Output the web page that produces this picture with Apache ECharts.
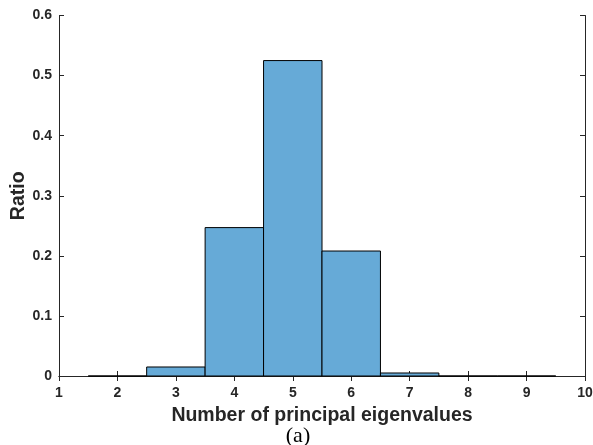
<!DOCTYPE html>
<html>
<head>
<meta charset="utf-8">
<script src="https://cdn.jsdelivr.net/npm/echarts@6/dist/echarts.min.js"></script>
<style>
html, body { margin: 0; padding: 0; background: #fff; }
#chart { width: 593px; height: 445px; }
</style>
</head>
<body>
<div id="chart"></div>
<script>
// Histogram of the number of principal eigenvalues (bin width 1)
const binCenters = [2, 3, 4, 5, 6, 7, 8, 9];
const ratios = [0.0, 0.015, 0.247, 0.525, 0.208, 0.005, 0.0, 0.0];
const binWidth = 1;
const xTicks = [1, 2, 3, 4, 5, 6, 7, 8, 9, 10];
const yTicks = [0, 0.1, 0.2, 0.3, 0.4, 0.5, 0.6];

const axisColor = '#262626';
const sans = 'Liberation Sans, Arial, sans-serif';
const labelFont = { color: axisColor, fontSize: 14, fontWeight: 'bold', fontFamily: sans };
const nameFont = { color: axisColor, fontSize: 19.5, fontWeight: 'bold', fontFamily: sans };

const chart = echarts.init(document.getElementById('chart'), null, { renderer: 'canvas' });

const data = binCenters.map((c, i) => [c - binWidth / 2, c + binWidth / 2, ratios[i]]);

const boxAxis = {
  axisLine: { show: true, lineStyle: { color: axisColor, width: 1 } },
  axisTick: { show: true, inside: true, length: 5, lineStyle: { color: axisColor } },
  axisLabel: { show: false },
  splitLine: { show: false }
};

chart.setOption({
  animation: false,
  grid: { left: 59, right: 8, top: 15.5, bottom: 69, containLabel: false, outerBoundsMode: 'none' },
  xAxis: [
    Object.assign({}, boxAxis, {
      type: 'value', min: xTicks[0], max: xTicks[xTicks.length - 1], interval: 1,
      position: 'bottom',
      axisLabel: Object.assign({ show: true, margin: 10 }, labelFont),
      name: 'Number of principal eigenvalues',
      nameLocation: 'middle', nameGap: 30, nameMoveOverlap: false,
      nameTextStyle: nameFont
    }),
    Object.assign({}, boxAxis, {
      type: 'value', min: xTicks[0], max: xTicks[xTicks.length - 1], interval: 1,
      position: 'top'
    })
  ],
  yAxis: [
    Object.assign({}, boxAxis, {
      type: 'value', min: yTicks[0], max: yTicks[yTicks.length - 1], interval: 0.1,
      position: 'left',
      axisLabel: Object.assign({ show: true, margin: 7 }, labelFont),
      name: 'Ratio',
      nameLocation: 'middle', nameGap: 30, nameRotate: 90, nameMoveOverlap: false,
      nameTextStyle: nameFont
    }),
    Object.assign({}, boxAxis, {
      type: 'value', min: yTicks[0], max: yTicks[yTicks.length - 1], interval: 0.1,
      position: 'right'
    })
  ],
  series: [{
    type: 'custom',
    xAxisIndex: 0, yAxisIndex: 0,
    data: data,
    encode: { x: [0, 1], y: 2 },
    renderItem: function (params, api) {
      const p0 = api.coord([api.value(0), api.value(2)]);
      const p1 = api.coord([api.value(1), 0]);
      return {
        type: 'rect',
        shape: { x: p0[0], y: p0[1], width: p1[0] - p0[0], height: p1[1] - p0[1] },
        style: { fill: 'rgb(102,170,215)', stroke: '#000', lineWidth: 1 }
      };
    }
  }],
  graphic: [{
    type: 'text', x: 298, y: 425,
    style: {
      text: '(a)', fill: '#000', fontSize: 22,
      fontFamily: 'Liberation Serif, Times New Roman, serif',
      align: 'center', verticalAlign: 'top'
    }
  }]
});
</script>
</body>
</html>
